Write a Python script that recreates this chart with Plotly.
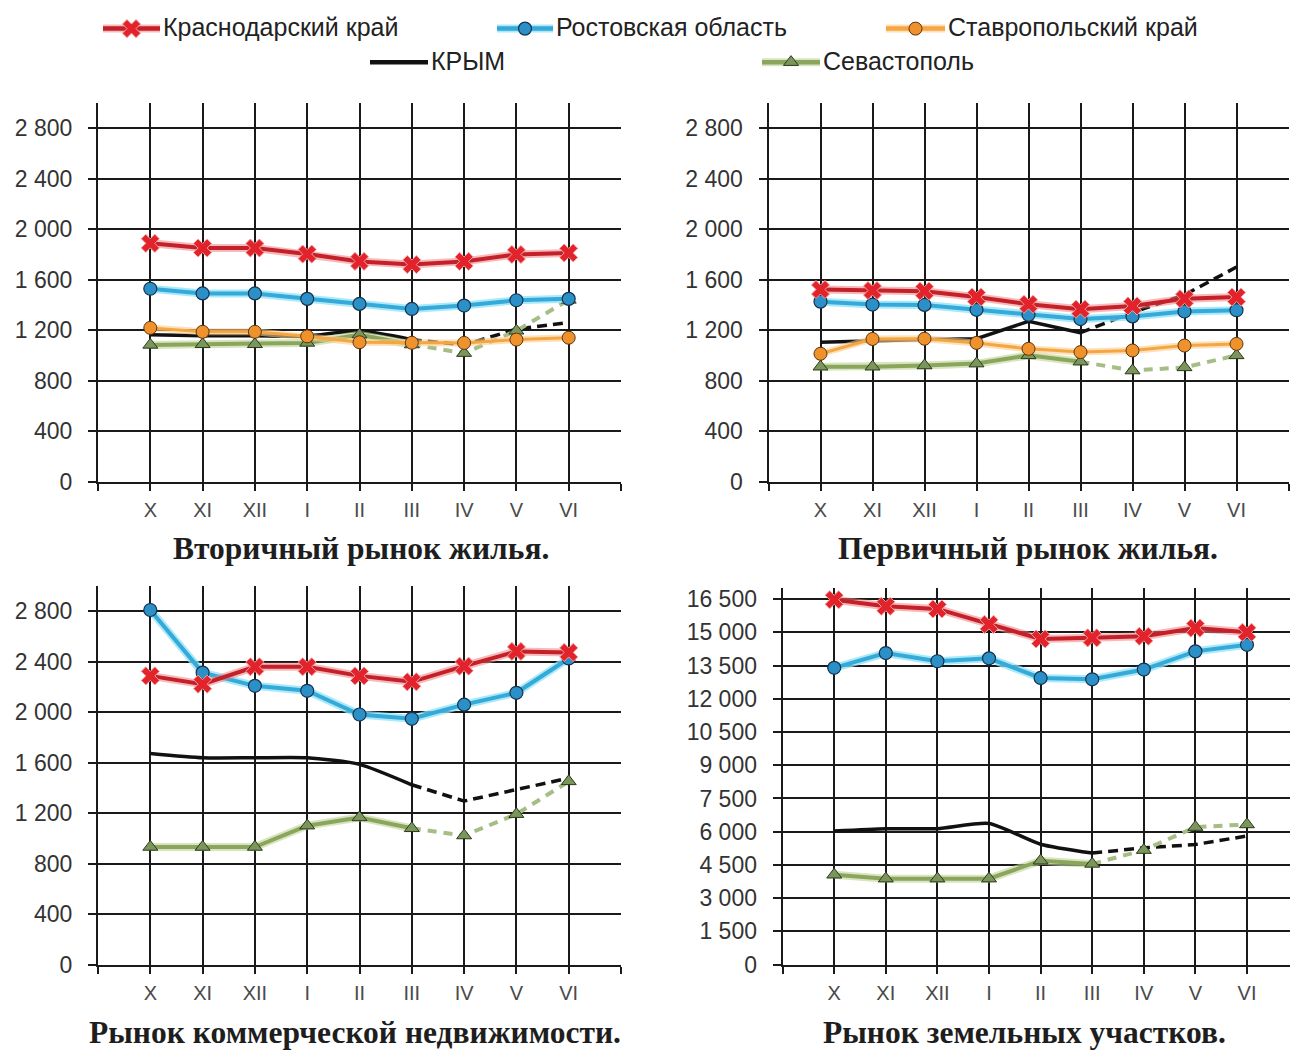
import plotly.graph_objects as go

# Months of the observation period
months = ["X", "XI", "XII", "I", "II", "III", "IV", "V", "VI"]

# Вторичный рынок жилья
sec_krasnodar = [1888, 1851, 1851, 1803, 1745, 1720, 1745, 1800, 1812]
sec_rostov = [1528, 1491, 1491, 1448, 1408, 1368, 1395, 1437, 1448]
sec_stavropol = [1218, 1187, 1187, 1151, 1104, 1100, 1099, 1125, 1140]
sec_krym = [1164, 1156, 1156, 1153, 1195, 1125, 1083, 1208, 1260]
sec_sevastopol = [1083, 1088, 1088, 1099, 1164, 1086, 1018, 1195, 1440]

# Первичный рынок жилья
pri_krasnodar = [1522, 1514, 1509, 1462, 1405, 1366, 1392, 1449, 1462]
pri_rostov = [1426, 1403, 1400, 1361, 1322, 1288, 1309, 1348, 1358]
pri_stavropol = [1013, 1130, 1132, 1099, 1052, 1026, 1039, 1078, 1091]
pri_krym = [1105, 1118, 1125, 1132, 1270, 1180, 1340, 1480, 1700]
pri_sevastopol = [910, 910, 920, 935, 1000, 950, 880, 905, 1000]

# Рынок коммерческой недвижимости
com_krasnodar = [2288, 2222, 2360, 2360, 2288, 2241, 2365, 2482, 2474]
com_rostov = [2810, 2314, 2209, 2170, 1982, 1948, 2060, 2154, 2426]
com_krym = [1673, 1639, 1639, 1639, 1587, 1425, 1296, 1387, 1478]
com_sevastopol = [932, 932, 932, 1101, 1166, 1080, 1023, 1192, 1452]

# Рынок земельных участков
land_krasnodar = [16470, 16175, 16055, 15360, 14700, 14750, 14820, 15190, 15000]
land_rostov = [13396, 14065, 13693, 13827, 12940, 12880, 13320, 14140, 14436]
land_krym = [6030, 6135, 6135, 6370, 5435, 5034, 5270, 5420, 5807]
land_sevastopol = [4055, 3880, 3880, 3880, 4690, 4545, 5168, 6207, 6326]

series_names = ["Краснодарский край", "Ростовская область", "Ставропольский край",
                "КРЫМ", "Севастополь"]
panel_titles = ["Вторичный рынок жилья.", "Первичный рынок жилья.",
                "Рынок коммерческой недвижимости.", "Рынок земельных участков."]

W, H = 1290, 1052
LAST_FACT = 5  # index of "III": later months are drawn dashed for Crimea / Sevastopol
GRID = "#1a1a1a"


def fx(p):
    return p / W


def fy(p):
    return 1 - p / H


# panel geometry in pixels: left, right, top, bottom, x range max, y max, y step, top tick
panels = [
    dict(ax="", l=98, r=621, t=102.5, b=486.5, xmax=9, ymax=3000, step=400, ytop=2800,
         data=[sec_krasnodar, sec_rostov, sec_stavropol, sec_krym, sec_sevastopol],
         spline=True, title_x=361, title_y=554),
    dict(ax="2", l=768.5, r=1288.5, t=102.5, b=486.5, xmax=9, ymax=3000, step=400, ytop=2800,
         data=[pri_krasnodar, pri_rostov, pri_stavropol, pri_krym, pri_sevastopol],
         spline=False, title_x=1028, title_y=554),
    dict(ax="3", l=98, r=621, t=592.5, b=976.5, xmax=9, ymax=3000, step=400, ytop=2800,
         data=[com_krasnodar, com_rostov, None, com_krym, com_sevastopol],
         spline=True, title_x=355, title_y=1045),
    dict(ax="4", l=782.6, r=1290, t=594.5, b=976.5, xmax=-1 + (1290 - 782.6) / 51.6,
         ymax=17000, step=1500, ytop=16500,
         data=[land_krasnodar, land_rostov, None, land_krym, land_sevastopol],
         spline=True, title_x=1024, title_y=1045),
]

xs = list(range(len(months)))

fig = go.Figure()

RED_HALO = "rgba(240,130,130,0.55)"
BLUE_HALO = "rgba(140,225,248,0.75)"
ORANGE_HALO = "rgba(252,205,140,0.6)"
GREEN_HALO = "rgba(190,212,150,0.6)"

for p in panels:
    xa, ya = "x" + p["ax"], "y" + p["ax"]
    kr, ro, st, cr, se = p["data"]

    # Крым: fact solid, later months dashed
    shape = "spline" if p["spline"] else "linear"
    fig.add_trace(go.Scatter(x=xs[:LAST_FACT + 1], y=cr[:LAST_FACT + 1], mode="lines",
                             line=dict(color="#111111", width=3.5, shape=shape, smoothing=0.6),
                             xaxis=xa, yaxis=ya, showlegend=False, hoverinfo="skip"))
    fig.add_trace(go.Scatter(x=xs[LAST_FACT:], y=cr[LAST_FACT:], mode="lines",
                             line=dict(color="#111111", width=3.5, dash="10px,6px"),
                             xaxis=xa, yaxis=ya, showlegend=False, hoverinfo="skip"))

    # Севастополь
    fig.add_trace(go.Scatter(x=xs[:LAST_FACT + 1], y=se[:LAST_FACT + 1], mode="lines",
                             line=dict(color=GREEN_HALO, width=8),
                             xaxis=xa, yaxis=ya, showlegend=False, hoverinfo="skip"))
    fig.add_trace(go.Scatter(x=xs[:LAST_FACT + 1], y=se[:LAST_FACT + 1], mode="lines",
                             line=dict(color="#8aa65c", width=4),
                             xaxis=xa, yaxis=ya, showlegend=False, hoverinfo="skip"))
    fig.add_trace(go.Scatter(x=xs[LAST_FACT:], y=se[LAST_FACT:], mode="lines",
                             line=dict(color="#a6bd86", width=4, dash="9px,7px"),
                             xaxis=xa, yaxis=ya, showlegend=False, hoverinfo="skip"))
    fig.add_trace(go.Scatter(x=xs, y=se, mode="markers",
                             marker=dict(symbol="triangle-up", size=13, color="#7b965c",
                                         line=dict(color="#2a3a1a", width=1)),
                             xaxis=xa, yaxis=ya, showlegend=False, hoverinfo="skip"))

    # Ставропольский край
    if st is not None:
        fig.add_trace(go.Scatter(x=xs, y=st, mode="lines",
                                 line=dict(color=ORANGE_HALO, width=7),
                                 xaxis=xa, yaxis=ya, showlegend=False, hoverinfo="skip"))
        fig.add_trace(go.Scatter(x=xs, y=st, mode="lines+markers",
                                 line=dict(color="#f4a643", width=3),
                                 marker=dict(symbol="circle", size=13, color="#f0922c",
                                             line=dict(color="#5a3412", width=1)),
                                 xaxis=xa, yaxis=ya, showlegend=False, hoverinfo="skip"))

    # Ростовская область
    fig.add_trace(go.Scatter(x=xs, y=ro, mode="lines",
                             line=dict(color=BLUE_HALO, width=8),
                             xaxis=xa, yaxis=ya, showlegend=False, hoverinfo="skip"))
    fig.add_trace(go.Scatter(x=xs, y=ro, mode="lines+markers",
                             line=dict(color="#35a9d8", width=4),
                             marker=dict(symbol="circle", size=13, color="#2b8fc8",
                                         line=dict(color="#17324c", width=1.2)),
                             xaxis=xa, yaxis=ya, showlegend=False, hoverinfo="skip"))

    # Краснодарский край
    fig.add_trace(go.Scatter(x=xs, y=kr, mode="lines",
                             line=dict(color=RED_HALO, width=8),
                             xaxis=xa, yaxis=ya, showlegend=False, hoverinfo="skip"))
    fig.add_trace(go.Scatter(x=xs, y=kr, mode="lines+markers",
                             line=dict(color="#c4202a", width=4),
                             marker=dict(symbol="x", size=16, color="#e3232b",
                                         line=dict(color="#f4a0a0", width=1)),
                             xaxis=xa, yaxis=ya, showlegend=False, hoverinfo="skip"))

    # axes
    xkey = "xaxis" + p["ax"]
    ykey = "yaxis" + p["ax"]
    fig.update_layout({
        xkey: dict(domain=[fx(p["l"]), fx(p["r"])], range=[-1, p["xmax"]], anchor=ya,
                   tickmode="array", tickvals=list(range(-1, 10)),
                   ticktext=[""] + months + [""],
                   showgrid=True, gridcolor=GRID, gridwidth=2, zeroline=False,
                   showline=True, linecolor=GRID, linewidth=2,
                   ticks="outside", ticklen=7, tickwidth=2, tickcolor=GRID,
                   tickfont=dict(family="Liberation Sans, Arial", size=20, color="#4a4a4a"),
                   ticklabelstandoff=2, fixedrange=True),
        ykey: dict(domain=[fy(p["b"]), fy(p["t"])], range=[0, p["ymax"]], anchor=xa,
                   tickmode="array",
                   tickvals=list(range(0, p["ytop"] + 1, p["step"])),
                   tickformat=",d",
                   showgrid=True, gridcolor=GRID, gridwidth=2, zeroline=False,
                   showline=True, linecolor=GRID, linewidth=2,
                   ticks="outside", ticklen=8, tickwidth=2, tickcolor=GRID,
                   tickfont=dict(family="Liberation Sans, Arial", size=23, color="#333333"),
                   ticklabelstandoff=11, fixedrange=True),
    })

annotations = []
for p, t in zip(panels, panel_titles):
    annotations.append(dict(x=fx(p["title_x"]), y=fy(p["title_y"]), xref="paper", yref="paper",
                            text="<b>" + t + "</b>", showarrow=False,
                            xanchor="center", yanchor="middle",
                            font=dict(family="Liberation Serif, Times New Roman", size=31.5,
                                      color="#1e1e1e")))

# legend drawn on an overlay axis measured in pixels
legend_items = [
    (0, 103, 160, 27, "Краснодарский край"),
    (1, 497, 553, 27, "Ростовская область"),
    (2, 886, 945, 27, "Ставропольский край"),
    (3, 370, 428, 61, "КРЫМ"),
    (4, 762, 820, 61, "Севастополь"),
]
legend_styles = [
    dict(line="#c4202a", halo=RED_HALO, marker=dict(symbol="x", size=16, color="#e3232b",
                                                   line=dict(color="#f4a0a0", width=1))),
    dict(line="#35a9d8", halo=BLUE_HALO, marker=dict(symbol="circle", size=13, color="#2b8fc8",
                                                    line=dict(color="#17324c", width=1.2))),
    dict(line="#f4a643", halo=ORANGE_HALO, marker=dict(symbol="circle", size=13, color="#f0922c",
                                                      line=dict(color="#5a3412", width=1))),
    dict(line="#111111", halo=None, marker=None),
    dict(line="#8aa65c", halo=GREEN_HALO, marker=dict(symbol="triangle-up", size=13,
                                                     color="#7b965c",
                                                     line=dict(color="#2a3a1a", width=1))),
]
for idx, x0, x1, yy, label in legend_items:
    s = legend_styles[idx]
    if s["halo"]:
        fig.add_trace(go.Scatter(x=[x0, x1], y=[yy, yy], mode="lines",
                                 line=dict(color=s["halo"], width=8),
                                 xaxis="x5", yaxis="y5", showlegend=False, hoverinfo="skip"))
    fig.add_trace(go.Scatter(x=[x0, x1], y=[yy, yy], mode="lines",
                             line=dict(color=s["line"], width=4.5),
                             xaxis="x5", yaxis="y5", showlegend=False, hoverinfo="skip"))
    if s["marker"]:
        fig.add_trace(go.Scatter(x=[(x0 + x1) / 2], y=[yy], mode="markers", marker=s["marker"],
                                 xaxis="x5", yaxis="y5", showlegend=False, hoverinfo="skip"))
    annotations.append(dict(x=x1 + 1, y=yy - 1.5, xref="x5", yref="y5", text=label,
                            showarrow=False, xanchor="left", yanchor="middle",
                            font=dict(family="Liberation Sans, Arial", size=25, color="#222222")))

fig.update_layout(
    xaxis5=dict(domain=[0, 1], range=[0, W], visible=False, fixedrange=True, anchor="y5"),
    yaxis5=dict(domain=[0, 1], range=[H, 0], visible=False, fixedrange=True, anchor="x5"),
    annotations=annotations,
    width=W, height=H,
    margin=dict(l=0, r=0, t=0, b=0),
    paper_bgcolor="white", plot_bgcolor="rgba(0,0,0,0)",
    separators=". ",
    showlegend=False,
)

fig.write_html("out.html", config=dict(displayModeBar=False))
